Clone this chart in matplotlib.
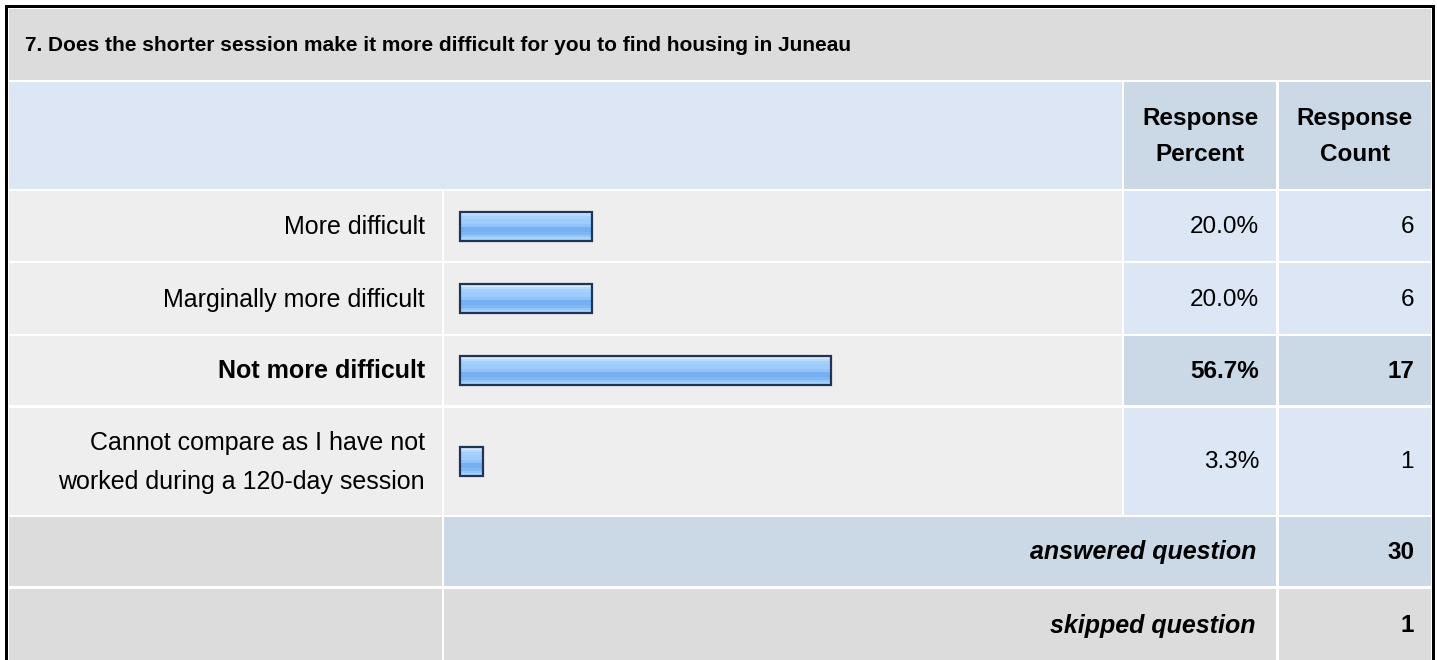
import numpy as np
import matplotlib

matplotlib.use("Agg")
import matplotlib.pyplot as plt
from matplotlib.patches import Rectangle

# ---- data ----
title = "7. Does the shorter session make it more difficult for you to find housing in Juneau"
choices = [
    "More difficult",
    "Marginally more difficult",
    "Not more difficult",
    "Cannot compare as I have not\nworked during a 120-day session",
]
percents = [20.0, 20.0, 56.7, 3.3]
counts = [6, 6, 17, 1]
answered = 30
skipped = 1
top_choice = int(np.argmax(counts))

# ---- layout (pixels) ----
W, H = 1437, 660
FONT = "Liberation Sans"
FS = 18
col_label = (9, 442)
col_bar = (444, 1122)
col_pct = (1124, 1276)
col_cnt = (1279, 1431)
row_title = (9, 80)
row_header = (82, 189)
rows_data = [(191, 261), (263, 334), (336, 405), (408, 515)]
row_answered = (517, 586)
row_skipped = (589, 662)
bar_left = 460
bar_h = 29
px_per_pct = 6.5

GRAY_DARK = "#dcdcdc"
GRAY_LIGHT = "#eeeeee"
BLUE_LIGHT = "#dce6f4"
BLUE_MID = "#cbd8e6"

fig = plt.figure(figsize=(W / 100, H / 100), dpi=100)
ax = fig.add_axes([0, 0, 1, 1])
ax.set_xlim(0, W)
ax.set_ylim(H, 0)
ax.axis("off")


def cell(x, y, color):
    ax.add_patch(Rectangle((x[0], y[0]), x[1] - x[0], y[1] - y[0],
                           facecolor=color, edgecolor="none", zorder=1))


# outer frame
ax.add_patch(Rectangle((5, 5), 1430, 670, facecolor="black", edgecolor="none", zorder=0))
ax.add_patch(Rectangle((8, 8), 1424, 670, facecolor="white", edgecolor="none", zorder=0))

# title
cell((9, 1431), row_title, GRAY_DARK)
ax.text(25, (row_title[0] + row_title[1]) / 2 + 1, title, fontsize=15,
        fontweight="bold", family=FONT, va="center", ha="left", zorder=3)

# header
cell((9, 1122), row_header, BLUE_LIGHT)
cell(col_pct, row_header, BLUE_MID)
cell(col_cnt, row_header, BLUE_MID)
hy = (row_header[0] + row_header[1]) / 2 + 1
for col, txt in [(col_pct, "Response\nPercent"), (col_cnt, "Response\nCount")]:
    ax.text((col[0] + col[1]) / 2, hy, txt, fontsize=17.5, fontweight="bold",
            family=FONT, ha="center", va="center", linespacing=1.75, zorder=3)

# gradient used inside the bars
grad_colors = ["#d3e8fd", "#b8dafd", "#a6d1fd", "#9ecdfd", "#9ecdfd", "#8fc3f9",
               "#76aff2", "#76aff2", "#7fb7f5", "#93c7fb", "#a8d3fd"]
grad = np.array([matplotlib.colors.to_rgb(c) for c in grad_colors])[:, None, :]

ycent = [(r[0] + r[1]) / 2 for r in rows_data]
widths = [p * px_per_pct + 2 for p in percents]
bars = ax.barh(ycent, widths, height=bar_h, left=bar_left, facecolor="none",
               edgecolor="#1f3558", linewidth=1.6, zorder=4)

for i, (r, lab, p, c) in enumerate(zip(rows_data, choices, percents, counts)):
    bold = "bold" if i == top_choice else "normal"
    cell(col_label, r, GRAY_LIGHT)
    cell(col_bar, r, GRAY_LIGHT)
    cell(col_pct, r, BLUE_MID if i == top_choice else BLUE_LIGHT)
    cell(col_cnt, r, BLUE_MID if i == top_choice else BLUE_LIGHT)
    yc = (r[0] + r[1]) / 2 + 1
    ax.text(425, yc, lab, fontsize=FS, fontweight=bold, family=FONT,
            ha="right", va="center", multialignment="right", linespacing=1.8, zorder=3)
    ax.text(1259, yc, f"{p:.1f}%", fontsize=FS - 0.5, fontweight=bold, family=FONT,
            ha="right", va="center", zorder=3)
    ax.text(1414, yc, f"{c}", fontsize=FS - 0.5, fontweight=bold, family=FONT,
            ha="right", va="center", zorder=3)

    b = bars[i]
    im = ax.imshow(grad, extent=(b.get_x(), b.get_x() + b.get_width(),
                                 b.get_y() + b.get_height(), b.get_y()),
                   aspect="auto", interpolation="nearest", zorder=3)
    im.set_clip_path(b)

# footer rows
cell(col_label, row_answered, GRAY_DARK)
cell((col_bar[0], col_pct[1]), row_answered, BLUE_MID)
cell(col_cnt, row_answered, BLUE_MID)
cell(col_label, row_skipped, GRAY_DARK)
cell((col_bar[0], col_pct[1]), row_skipped, GRAY_DARK)
cell(col_cnt, row_skipped, GRAY_DARK)
for r, lab, val in [(row_answered, "answered question", answered),
                    (row_skipped, "skipped question", skipped)]:
    yc = (r[0] + min(r[1], 660)) / 2 + 1
    ax.text(1256, yc, lab, fontsize=FS, fontweight="bold", fontstyle="italic",
            family=FONT, ha="right", va="center", zorder=3)
    ax.text(1414, yc, f"{val}", fontsize=FS - 0.5, fontweight="bold", family=FONT,
            ha="right", va="center", zorder=3)

fig.savefig("out.png", dpi=100)
